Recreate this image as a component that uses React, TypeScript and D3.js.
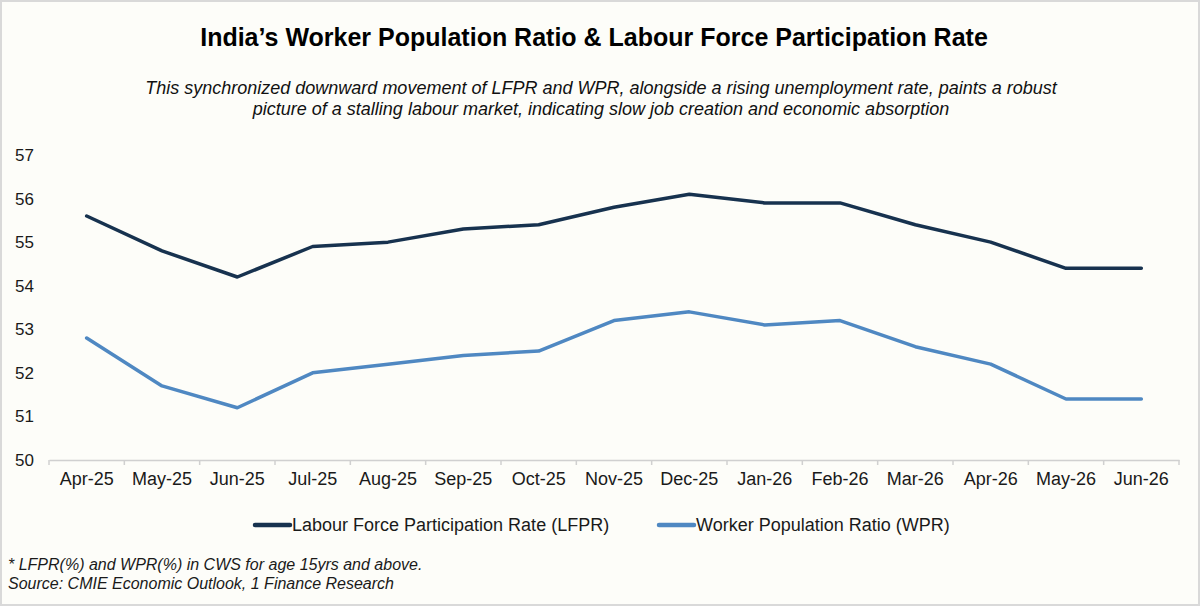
import React, { useEffect, useRef } from "react";
import * as d3 from "d3";

const months = [
  "Apr-25", "May-25", "Jun-25", "Jul-25", "Aug-25", "Sep-25", "Oct-25", "Nov-25",
  "Dec-25", "Jan-26", "Feb-26", "Mar-26", "Apr-26", "May-26", "Jun-26",
];
const lfpr = [55.6, 54.8, 54.2, 54.9, 55.0, 55.3, 55.4, 55.8, 56.1, 55.9, 55.9, 55.4, 55.0, 54.4, 54.4];
const wpr = [52.8, 51.7, 51.2, 52.0, 52.2, 52.4, 52.5, 53.2, 53.4, 53.1, 53.2, 52.6, 52.2, 51.4, 51.4];
const yTicks = [50, 51, 52, 53, 54, 55, 56, 57];

const seriesNames = ["Labour Force Participation Rate (LFPR)", "Worker Population Ratio (WPR)"];
const seriesColors = ["#17324f", "#4f88c2"];

const title = "India\u2019s Worker Population Ratio & Labour Force Participation Rate";
const subtitle = [
  "This synchronized downward movement of LFPR and WPR, alongside a rising unemployment rate, paints a robust",
  "picture of a stalling labour market, indicating slow job creation and economic absorption",
];
const notes = [
  "* LFPR(%) and WPR(%) in CWS for age 15yrs and above.",
  "Source: CMIE Economic Outlook, 1 Finance Research",
];

const font = "'Liberation Sans', Arial, sans-serif";

const App: React.FC = () => {
  const svgRef = useRef<SVGSVGElement | null>(null);

  useEffect(() => {
    const width = 1200;
    const height = 606;
    const margin = { top: 155, right: 21, bottom: 146, left: 49 };

    const svg = d3.select(svgRef.current).attr("width", width).attr("height", height);
    svg.selectAll("*").remove();

    // background + frame
    svg
      .append("rect")
      .attr("x", 1)
      .attr("y", 1)
      .attr("width", width - 2)
      .attr("height", height - 2)
      .attr("fill", "#fdfdf9")
      .attr("stroke", "#d9d9d9")
      .attr("stroke-width", 2);

    const xScale = d3
      .scaleBand()
      .domain(months)
      .range([margin.left, width - margin.right]);

    const yScale = d3
      .scaleLinear()
      .domain([50, 57])
      .range([height - margin.bottom, margin.top]);

    // x axis
    const xAxisGroup = svg
      .append("g")
      .attr("transform", `translate(0,${height - margin.bottom})`)
      .call(d3.axisBottom(xScale).tickSizeOuter(0).tickSizeInner(0));
    xAxisGroup.select(".domain").attr("stroke", "#d0d0d0").attr("stroke-width", 1.5);
    xAxisGroup
      .selectAll("text")
      .attr("dy", "1.2em")
      .style("font-family", font)
      .style("font-size", "18px")
      .style("fill", "#1a1a1a");

    // tick marks between categories
    const bounds = months.map((m) => xScale(m) as number).concat([width - margin.right]);
    xAxisGroup
      .selectAll("line.sep")
      .data(bounds)
      .enter()
      .append("line")
      .attr("class", "sep")
      .attr("x1", (d) => d)
      .attr("x2", (d) => d)
      .attr("y1", 0)
      .attr("y2", 5)
      .attr("stroke", "#d0d0d0")
      .attr("stroke-width", 1.5);

    // y axis labels
    svg
      .append("g")
      .selectAll("text")
      .data(yTicks)
      .enter()
      .append("text")
      .attr("x", 34)
      .attr("y", (d) => yScale(d))
      .attr("dy", "0.35em")
      .attr("text-anchor", "end")
      .style("font-family", font)
      .style("font-size", "17px")
      .style("fill", "#1a1a1a")
      .text((d) => d);

    const cx = (i: number) => (xScale(months[i]) as number) + xScale.bandwidth() / 2;

    const line = d3
      .line<number>()
      .x((_, i) => cx(i))
      .y((d) => yScale(d));

    [lfpr, wpr].forEach((vals, k) => {
      svg
        .append("path")
        .datum(vals)
        .attr("d", line)
        .attr("fill", "none")
        .attr("stroke", seriesColors[k])
        .attr("stroke-width", 3.5)
        .attr("stroke-linejoin", "round")
        .attr("stroke-linecap", "round");
    });

    // title
    svg
      .append("text")
      .attr("x", 594)
      .attr("y", 46)
      .attr("text-anchor", "middle")
      .style("font-family", font)
      .style("font-size", "25px")
      .style("font-weight", "bold")
      .style("fill", "#000")
      .text(title);

    // subtitle
    svg
      .append("g")
      .selectAll("text")
      .data(subtitle)
      .enter()
      .append("text")
      .attr("x", 601)
      .attr("y", (_, i) => 94 + i * 21)
      .attr("text-anchor", "middle")
      .style("font-family", font)
      .style("font-size", "18px")
      .style("font-style", "italic")
      .style("fill", "#111")
      .text((d) => d);

    // legend
    const legendX = [255, 659];
    const legend = svg
      .append("g")
      .selectAll("g")
      .data(seriesNames)
      .enter()
      .append("g")
      .attr("transform", (_, i) => `translate(${legendX[i]},525)`);
    legend
      .append("line")
      .attr("x1", 0)
      .attr("x2", 35)
      .attr("stroke", (_, i) => seriesColors[i])
      .attr("stroke-width", 4.5)
      .attr("stroke-linecap", "round");
    legend
      .append("text")
      .attr("x", 37)
      .attr("dy", "0.35em")
      .style("font-family", font)
      .style("font-size", "18px")
      .style("fill", "#1a1a1a")
      .text((d) => d);

    // footnotes
    svg
      .append("g")
      .selectAll("text")
      .data(notes)
      .enter()
      .append("text")
      .attr("x", 8)
      .attr("y", (_, i) => 570 + i * 19)
      .style("font-family", font)
      .style("font-size", "16px")
      .style("font-style", "italic")
      .style("fill", "#1a1a1a")
      .text((d) => d);
  }, []);

  return (
    <div style={{ position: "absolute", left: 0, top: 0 }}>
      <svg ref={svgRef} style={{ display: "block" }}></svg>
    </div>
  );
};

export default App;
